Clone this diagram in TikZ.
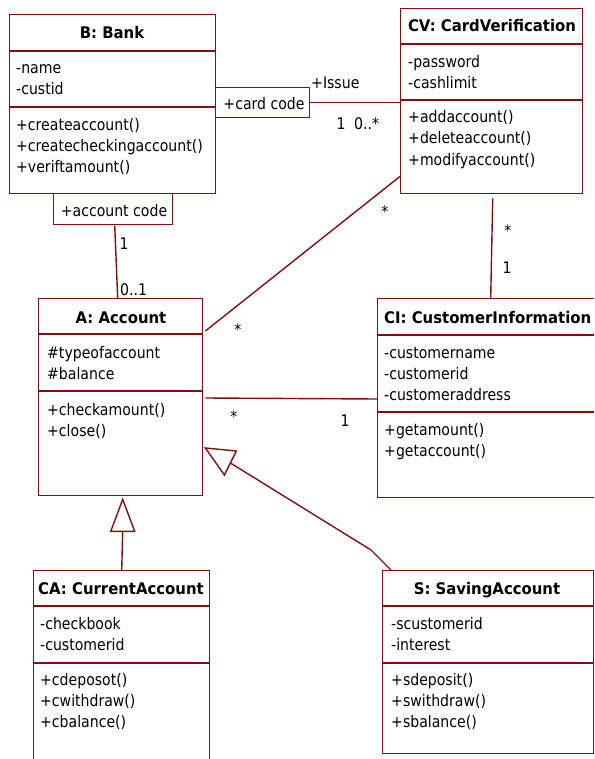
\documentclass[tikz,border=0pt]{standalone}
\usepackage{fontspec}
\setmainfont{DejaVu Sans}[FakeStretch=0.88]
\newfontfamily\headfont{DejaVu Sans}[FakeStretch=0.93]
\usetikzlibrary{calc}
\definecolor{umlred}{RGB}{128,16,16}

\begin{document}
\begin{tikzpicture}[x=1pt,y=-1pt,
  ln/.style={draw=umlred,line width=1.4pt},
  cls/.style={ln,rectangle,inner sep=0pt,anchor=north west},
  txt/.style={anchor=base west,inner sep=0pt,font=\fontsize{16}{19}\selectfont},
  ttl/.style={anchor=base,inner sep=0pt,font=\headfont\bfseries\fontsize{16}{19}\selectfont},
  lbl/.style={anchor=base,inner sep=0pt,font=\fontsize{16}{19}\selectfont},
  gen/.style={ln,fill=white,line join=miter}]
\useasboundingbox (0,0) rectangle (594,759);
\clip (0,0) rectangle (594,759);

% ---------- B: Bank ----------
\node[cls,minimum width=206pt,minimum height=179pt] (bank) at (9,14) {};
\draw[ln] (9,51) -- (215,51);
\draw[ln] (9,107) -- (215,107);
\node[ttl] (bank-t) at (112,39) {B: Bank};
\node[txt] (bank-a1) at (16,74) {-name};
\node[txt] (bank-a2) at (16,95) {-custid};
\node[txt] (bank-m1) at (16,131) {+createaccount()};
\node[txt] (bank-m2) at (16,152) {+createcheckingaccount()};
\node[txt] (bank-m3) at (16,173) {+veriftamount()};

% qualifiers on the bank box
\node[cls,minimum width=119pt,minimum height=31pt] (acode) at (53,193) {};
\node[lbl] (acode-t) at (114,217) {+account code};
\node[cls,minimum width=94pt,minimum height=30pt] (ccode) at (215,87) {};
\node[lbl] (ccode-t) at (264,110) {+card code};

% ---------- CV: CardVerification ----------
\node[cls,minimum width=182pt,minimum height=185pt] (cv) at (400,8) {};
\draw[ln] (400,44) -- (582,44);
\draw[ln] (400,100) -- (582,100);
\node[ttl] (cv-t) at (492,32) {CV: CardVerification};
\node[txt] (cv-a1) at (408,68) {-password};
\node[txt] (cv-a2) at (408,89) {-cashlimit};
\node[txt] (cv-m1) at (408,123) {+addaccount()};
\node[txt] (cv-m2) at (408,144) {+deleteaccount()};
\node[txt] (cv-m3) at (408,166) {+modifyaccount()};

% ---------- A: Account ----------
\node[cls,minimum width=164pt,minimum height=197pt] (acc) at (38,298) {};
\draw[ln] (38,334) -- (202,334);
\draw[ln] (38,391) -- (202,391);
\node[ttl] (acc-t) at (121,323) {A: Account};
\node[txt] (acc-a1) at (47,358) {\#typeofaccount};
\node[txt] (acc-a2) at (47,379) {\#balance};
\node[txt] (acc-m1) at (47,415) {+checkamount()};
\node[txt] (acc-m2) at (47,436) {+close()};

% ---------- CI: CustomerInformation ----------
\node[cls,minimum width=223pt,minimum height=199pt] (ci) at (377,298) {};
\draw[ln] (377,335) -- (600,335);
\draw[ln] (377,412) -- (600,412);
\node[ttl,anchor=base west] (ci-t) at (384,323) {CI: CustomerInformation};
\node[txt] (ci-a1) at (384,358) {-customername};
\node[txt] (ci-a2) at (384,379) {-customerid};
\node[txt] (ci-a3) at (384,400) {-customeraddress};
\node[txt] (ci-m1) at (384,435) {+getamount()};
\node[txt] (ci-m2) at (384,456) {+getaccount()};

% ---------- CA: CurrentAccount ----------
\node[cls,minimum width=176pt,minimum height=200pt] (ca) at (33,570) {};
\draw[ln] (33,606) -- (209,606);
\draw[ln] (33,663) -- (209,663);
\node[ttl] (ca-t) at (121,594) {CA: CurrentAccount};
\node[txt] (ca-a1) at (40,629) {-checkbook};
\node[txt] (ca-a2) at (40,650) {-customerid};
\node[txt] (ca-m1) at (40,685) {+cdeposot()};
\node[txt] (ca-m2) at (40,706) {+cwithdraw()};
\node[txt] (ca-m3) at (40,727) {+cbalance()};

% ---------- S: SavingAccount ----------
\node[cls,minimum width=211pt,minimum height=183pt] (sa) at (382,570) {};
\draw[ln] (382,606) -- (593,606);
\draw[ln] (382,663) -- (593,663);
\node[ttl] (sa-t) at (487,594) {S: SavingAccount};
\node[txt] (sa-a1) at (391,629) {-scustomerid};
\node[txt] (sa-a2) at (391,650) {-interest};
\node[txt] (sa-m1) at (391,685) {+sdeposit()};
\node[txt] (sa-m2) at (391,706) {+swithdraw()};
\node[txt] (sa-m3) at (391,727) {+sbalance()};

% ---------- associations ----------
\draw[ln] (ccode.east) -- (ccode.east -| cv.west);
\draw[ln] ($(acode.south)+(1.5,0)$) -- ($(acc.north)+(-3,0)$);
\draw[ln] ($(cv.south west)+(0,-18)$) -- ($(acc.north east)+(2,33)$);
\draw[ln] ($(cv.south)+(1,4)$) -- ($(ci.north)+(1.5,0)$);
\draw[ln] ($(acc.north east)+(2,100)$) -- ($(ci.north west)+(0,101)$);

% multiplicities and role names
\node[lbl,anchor=base west] (issue) at (311,89) {+Issue};
\node[lbl] (m-cc1) at (341,130) {1};
\node[lbl,anchor=base west] (m-cc2) at (354,130) {0..*};
\node[lbl] (m-cva) at (385,218) {*};
\node[lbl] (m-acv) at (238,335) {*};
\node[lbl] (m-cvi) at (508,236) {*};
\node[lbl] (m-icv) at (507,273) {1};
\node[lbl] (m-ba) at (124,249) {1};
\node[lbl,anchor=base west] (m-ab) at (120,295) {0..1};
\node[lbl] (m-aci) at (234,422) {*};
\node[lbl] (m-cia) at (345,426) {1};

% ---------- generalizations ----------
\coordinate (tipCA) at ($(acc.south)+(2,3)$);
\draw[ln] (ca.north) -- ($(tipCA)+(0,32)$);
\draw[gen] (tipCA) -- ++(-12,32) -- ++(24,0) -- cycle;

\coordinate (tipSA) at ($(acc.north east)+(2,150)$);
\coordinate (bendSA) at (371,550);
\draw[ln] ($(tipSA)+(25,15)$) -- (bendSA) -- ($(sa.north west)+(9,0)$);
\draw[gen] (tipSA) -- ++(31,3) -- ++(-12,24) -- cycle;
\end{tikzpicture}
\end{document}
